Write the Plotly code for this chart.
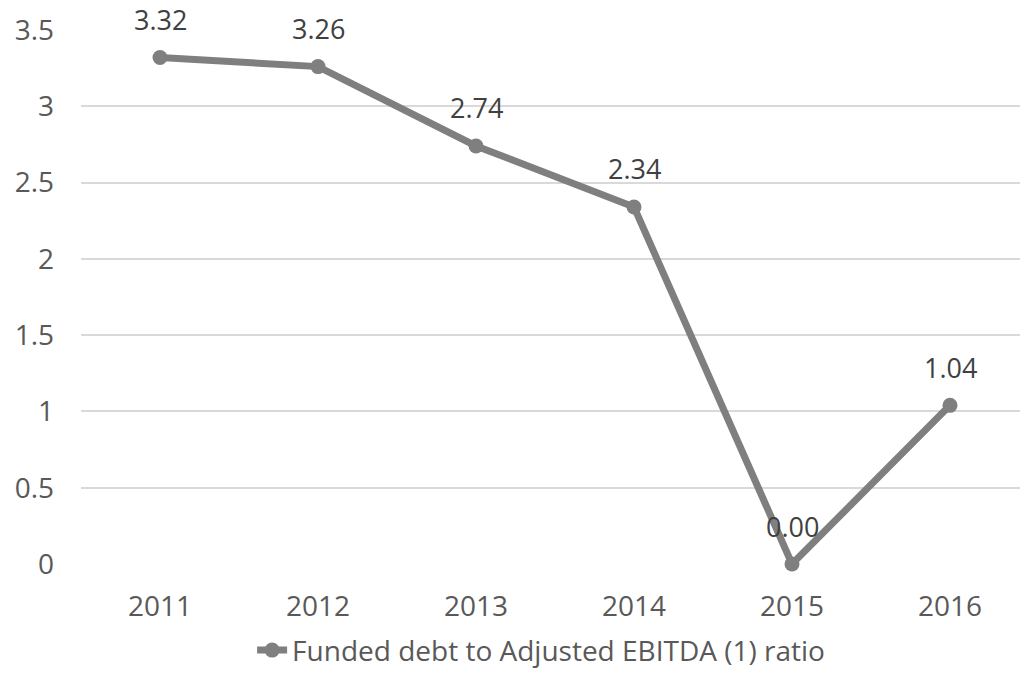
import plotly.graph_objects as go

years = ["2011", "2012", "2013", "2014", "2015", "2016"]
ratio = [3.32, 3.26, 2.74, 2.34, 0.00, 1.04]
series_name = "Funded debt to Adjusted EBITDA (1) ratio"
y_ticks = [0, 0.5, 1, 1.5, 2, 2.5, 3, 3.5]
y_tick_text = ["0", "0.5", "1", "1.5", "2", "2.5", "3", "3.5"]

FONT = "Open Sans"
LINE = "#7f7f7f"

fig = go.Figure()
fig.add_trace(go.Scatter(
    x=years, y=ratio, mode="lines+markers", name=series_name,
    line=dict(color=LINE, width=7),
    marker=dict(color=LINE, size=15),
    cliponaxis=False,
))

for i, v in enumerate(ratio):
    fig.add_annotation(x=i, y=v, xref="x", yref="y", text=f"{v:.2f}", showarrow=False,
                       yshift=38, font=dict(family=FONT, size=27, color="#404040"))

fig.update_layout(
    width=1020, height=682,
    margin=dict(l=81, r=0, t=30, b=118),
    paper_bgcolor="white", plot_bgcolor="white",
    font=dict(family=FONT, size=27, color="#595959"),
    showlegend=True,
    legend=dict(orientation="h", x=0.49, xanchor="center", y=-0.115, yanchor="top",
                bgcolor="rgba(0,0,0,0)", tracegroupgap=0,
                font=dict(family=FONT, size=28, color="#595959")),
    xaxis=dict(type="category", range=[-0.5, 5.443], showgrid=False, zeroline=False,
               showline=False, ticks="", ticklabelstandoff=23,
               tickfont=dict(family=FONT, size=28, color="#595959")),
    yaxis=dict(range=[0, 3.5], tickvals=y_ticks, ticktext=y_tick_text,
               showgrid=True, gridcolor="#d9d9d9", gridwidth=1.5, zeroline=False,
               showline=False, ticks="", ticklabelstandoff=26,
               tickfont=dict(family=FONT, size=28, color="#595959")),
)

fig.write_html("out.html", config={"displayModeBar": False},
               post_script="document.body.style.margin='0';")
